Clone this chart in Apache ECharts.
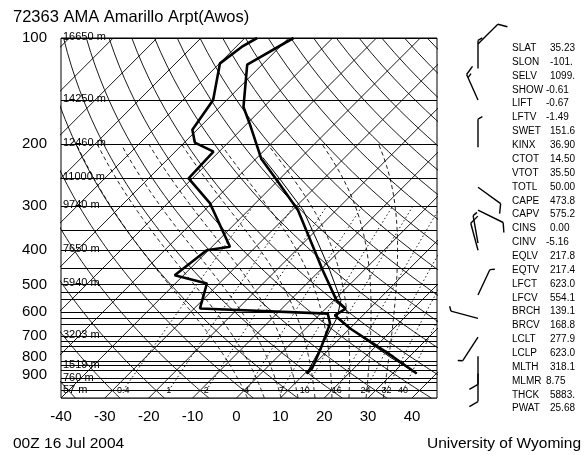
<!DOCTYPE html>
<html>
<head>
<meta charset="utf-8">
<script src="https://cdn.jsdelivr.net/npm/echarts@6.0.0/dist/echarts.min.js"></script>
<style>html,body{margin:0;padding:0;background:#fff;}#chart{width:586px;height:455px;}</style>
</head>
<body>
<div id="chart"></div>
<script>
// ---------------- sounding data ----------------
const tempP = [100, 119, 157, 175, 220, 253, 308, 382, 456, 555, 586, 612, 667, 736, 803, 895];
const tempT = [-68.9, -73.4, -64.6, -59.4, -48.8, -40.4, -28.7, -18.1, -9.4, 0.6, 4.6, 3.6, 10.1, 18.8, 26.4, 35.5];
const dewP  = [100, 106, 118, 150, 182, 198, 210, 250, 294, 391, 400, 471, 497, 585, 605, 646, 769, 866, 895];
const dewT  = [-77.2, -78.7, -79.9, -73.1, -71.1, -67.6, -61.3, -60.9, -50.4, -35.9, -40.4, -42.0, -32.8, -28.7, 1.6, 4.4, 8.2, 10.5, 10.4];
const parcelP = [895, 803, 736, 667, 623, 555, 456, 382, 308, 253, 218];
const parcelT = [35.5, 25.6, 18.3, 10.1, 4.7, 1.6, -7.8, -16.6, -27.5, -39.5, -48.8];
const lclP = [895, 623];
const lclT = [10.4, 4.7];

// wind barbs: pressure (hPa), direction (deg), speed (kt)
const windP   = [104, 122, 150, 204, 265, 308, 382, 400, 536, 624, 706, 800, 895];
const windDir = [45, 0, 336, 0, 126, 116, 350, 345, 25, 285, 213, 180, 180];
const windSpd = [10, 5, 15, 5, 10, 10, 5, 10, 5, 5, 5, 10, 10];

// geopotential heights of the standard levels
const hgtP   = [100, 150, 200, 250, 300, 400, 500, 700, 850, 925, 1000];
const hgtTxt = ['16650 m', '14250 m', '12460 m', '11000 m', '9740 m', '7650 m', '5940 m', '3203 m', '1519 m', '760 m', '57 m'];

// axis labels
const pLabels = [100, 200, 300, 400, 500, 600, 700, 800, 900];
const tLabels = [-40, -30, -20, -10, 0, 10, 20, 30, 40];

// background diagram levels
const isobarP = [100, 150, 200, 250, 300, 350, 400, 450, 500, 525, 550, 600, 625, 650, 700, 725, 750, 775, 825, 850, 875, 925, 950, 1000, 1050];
const isothermT = [-120, -110, -100, -90, -80, -70, -60, -50, -40, -30, -20, -10, 0, 10, 20, 30, 40];
const dryTheta = [-40, -30, -20, -10, 0, 10, 20, 30, 40, 50, 60, 70, 80, 90, 100, 110, 120, 130, 140, 150, 160, 170, 180];
const moistThetaW = [0, 4, 8, 12, 16, 20, 24, 28, 32];
const mixRatio = [0.4, 1, 2, 4, 7, 10, 16, 24, 32, 40];
const mixLabels = ['0.4', '1', '2', '4', '7', '10', '16', '24', '32', '40'];

// stability indices
const idxNames = ['SLAT','SLON','SELV','SHOW','LIFT','LFTV','SWET','KINX','CTOT','VTOT','TOTL','CAPE','CAPV','CINS','CINV','EQLV','EQTV','LFCT','LFCV','BRCH','BRCV','LCLT','LCLP','MLTH','MLMR','THCK','PWAT'];
const idxVals  = ['35.23','-101.','1099.','-0.61','-0.67','-1.49','151.6','36.90','14.50','35.50','50.00','473.8','575.2','0.00','-5.16','217.8','217.4','623.0','554.1','139.1','168.8','277.9','623.0','318.1','8.75','5883.','25.68'];

const titleText = '72363 AMA Amarillo Arpt(Awos)';
const dateText = '00Z 16 Jul 2004';
const sourceText = 'University of Wyoming';

// ---------------- diagram geometry ----------------
const FONT = '"Liberation Sans", Arial, Helvetica, sans-serif';
const X_MIN = -40, X_MAX = 45.7, P_TOP = 100, P_BOT = 1050, SKEW = 80.2;
const P_MOIST_TOP = 200, P_MIX_TOP = 300;
function skX(T, p) { return T + SKEW * Math.log10(P_BOT / p); }

function tdFromE(e) { const l = Math.log(e / 6.112); return 243.5 * l / (17.67 - l); }
function moistRate(p, T) {
  const Rd = 287.04, cp = 1005.7, Lv = 2.501e6, eps = 0.622;
  const es = 6.112 * Math.exp(17.67 * (T - 273.15) / (T - 29.65));
  const rs = eps * es / (p - es);
  return ((Rd * T + Lv * rs) / p) / (cp + (Lv * Lv * rs * eps) / (Rd * T * T));
}
function moistPath(thw) {
  const up = [], down = [];
  let T = thw + 273.15;
  for (let p = 1000; p > P_MOIST_TOP - 1e-6; p -= 5) {
    up.push([skX(T - 273.15, p), p]);
    const dp = -5, k1 = moistRate(p, T), k2 = moistRate(p + dp / 2, T + k1 * dp / 2);
    T += k2 * dp;
  }
  T = thw + 273.15;
  for (let p = 1000; p <= 1050; p += 5) {
    down.unshift([skX(T - 273.15, p), p]);
    const dp = 5, k1 = moistRate(p, T), k2 = moistRate(p + dp / 2, T + k1 * dp / 2);
    T += k2 * dp;
  }
  down.pop();
  return down.concat(up);
}
const presSteps = [];
for (let p = 1050; p >= 100; p -= 10) presSteps.push(p);

const isobarData = isobarP.map(p => ({ coords: [[X_MIN, p], [X_MAX, p]] }));
const isothermData = isothermT.map(T => ({ coords: [[skX(T, P_BOT), P_BOT], [skX(T, P_TOP), P_TOP]] }));
const dryData = dryTheta.map(th => ({ coords: presSteps.map(p => [skX((th + 273.15) * Math.pow(p / 1000, 0.2857) - 273.15, p), p]) }));
const moistData = moistThetaW.map(t => ({ coords: moistPath(t) }));
const mixSteps = presSteps.filter(p => p <= 1000 && p >= P_MIX_TOP);
const mixData = mixRatio.map(w => ({ coords: mixSteps.map(p => [skX(tdFromE(w * p / (622 + w)), p), p]) }));
const mixLabelData = mixRatio.map(w => [skX(tdFromE(w * 1000 / (622 + w)), 1000), 1000]);

const toXY = (P, T) => P.map((p, i) => [skX(T[i], p), p]);

const chart = echarts.init(document.getElementById('chart'), null, { renderer: 'canvas' });

function barb(x0, y0, dir, spd) {
  const L = 28, r = dir * Math.PI / 180;
  const ux = Math.sin(r), uy = -Math.cos(r);
  const x1 = x0 + ux * L, y1 = y0 + uy * L;
  const st = { stroke: '#000', lineWidth: 1.4 };
  const kids = [{ type: 'line', shape: { x1: x0, y1: y0, x2: x1, y2: y1 }, style: st }];
  const a = 60 * Math.PI / 180;
  const fx = ux * Math.cos(a) - uy * Math.sin(a), fy = ux * Math.sin(a) + uy * Math.cos(a);
  let rem = Math.round(spd / 5) * 5, pos = 0;
  while (rem >= 10) {
    const bx = x1 - ux * pos, by = y1 - uy * pos;
    kids.push({ type: 'line', shape: { x1: bx, y1: by, x2: bx + fx * 10, y2: by + fy * 10 }, style: st });
    rem -= 10; pos += 3.5;
  }
  if (rem >= 5) {
    const bx = x1 - ux * pos, by = y1 - uy * pos;
    kids.push({ type: 'line', shape: { x1: bx, y1: by, x2: bx + fx * 5, y2: by + fy * 5 }, style: st });
  }
  return kids;
}

const bgLine = (name, data, style, poly) => ({
  type: 'lines', name, coordinateSystem: 'cartesian2d', polyline: !!poly, silent: true, clip: true, z: 1,
  lineStyle: Object.assign({ color: '#000', width: 0.9, opacity: 1, curveness: 0 }, style), data
});

const txt = (x, y, text, size, align) => ({
  type: 'text', x, y,
  style: { text, font: size + 'px ' + FONT, fill: '#000', align, verticalAlign: 'middle', textAlign: align, textVerticalAlign: 'middle' }
});
const graphics = [
  txt(13, 17, titleText, 16.5, 'left'),
  txt(13, 444, dateText, 15.5, 'left'),
  txt(581, 444, sourceText, 15.5, 'right')
];
const shiftedRows = new Set(['SHOW', 'LIFT', 'LFTV', 'CINV', 'MLMR']);
idxNames.forEach((n, i) => {
  const y = 48.3 + i * 13.86;
  graphics.push(txt(512, y, n, 10, 'left'));
  graphics.push(txt(shiftedRows.has(n) ? 546 : 550, y, idxVals[i], 10, 'left'));
});

const option = {
  animation: false,
  backgroundColor: '#fff',
  grid: { left: 61, top: 38, width: 376, height: 360, show: true, borderColor: '#000', borderWidth: 1, backgroundColor: 'transparent' },
  xAxis: {
    type: 'value', min: X_MIN, max: X_MAX,
    axisLine: { show: false }, axisTick: { show: false }, splitLine: { show: false },
    axisLabel: { color: '#000', fontSize: 15, fontFamily: FONT, margin: 11, customValues: tLabels }
  },
  yAxis: {
    type: 'log', logBase: 10, inverse: true, min: P_TOP, max: P_BOT,
    axisLine: { show: false }, axisTick: { show: false }, splitLine: { show: false },
    axisLabel: { color: '#000', fontSize: 15, fontFamily: FONT, margin: 14, customValues: pLabels, formatter: v => String(Math.round(v)) }
  },
  graphic: graphics,
  series: [
    bgLine('isobars', isobarData, { width: 1 }),
    bgLine('isotherms', isothermData, { width: 0.9 }),
    bgLine('dry adiabats', dryData, { width: 0.9 }, true),
    bgLine('moist adiabats', moistData, { width: 0.9, type: [4, 3] }, true),
    bgLine('mixing ratio', mixData, { width: 0.9, type: [1.5, 2.5] }, true),
    {
      type: 'custom', name: 'mixing ratio labels', coordinateSystem: 'cartesian2d', silent: true, z: 3,
      data: mixLabelData,
      renderItem: (params, api) => {
        const c = api.coord([api.value(0), api.value(1)]);
        return { type: 'text', x: c[0], y: c[1], style: { text: mixLabels[params.dataIndex], font: '9px ' + FONT, fill: '#000', align: 'center', verticalAlign: 'middle' } };
      }
    },
    {
      type: 'custom', name: 'heights', coordinateSystem: 'cartesian2d', silent: true, z: 3,
      data: hgtP.map(p => [X_MIN, p]),
      renderItem: (params, api) => {
        const c = api.coord([api.value(0), api.value(1)]);
        return { type: 'text', x: c[0] + 2, y: c[1] - 1, style: { text: hgtTxt[params.dataIndex], font: '11px ' + FONT, fill: '#000', align: 'left', verticalAlign: 'middle' } };
      }
    },
    { type: 'line', name: 'parcel', data: toXY(parcelP, parcelT), showSymbol: false, clip: true, z: 4, lineStyle: { color: '#000', width: 1 } },
    { type: 'line', name: 'lcl', data: toXY(lclP, lclT), showSymbol: false, clip: true, z: 4, lineStyle: { color: '#000', width: 1 } },
    { type: 'line', name: 'temperature', data: toXY(tempP, tempT), showSymbol: false, clip: true, z: 5, lineStyle: { color: '#000', width: 2.6 } },
    { type: 'line', name: 'dewpoint', data: toXY(dewP, dewT), showSymbol: false, clip: true, z: 5, lineStyle: { color: '#000', width: 2.6 } },
    {
      type: 'custom', name: 'wind', coordinateSystem: 'cartesian2d', silent: true, z: 5,
      data: windP.map((p, i) => [X_MAX, p, windDir[i], windSpd[i]]),
      encode: { x: 0, y: 1 },
      renderItem: (params, api) => {
        const c = api.coord([api.value(0), api.value(1)]);
        return { type: 'group', children: barb(c[0] + 41, c[1], api.value(2), api.value(3)) };
      }
    }
  ]
};
chart.setOption(option);
</script>
</body>
</html>
